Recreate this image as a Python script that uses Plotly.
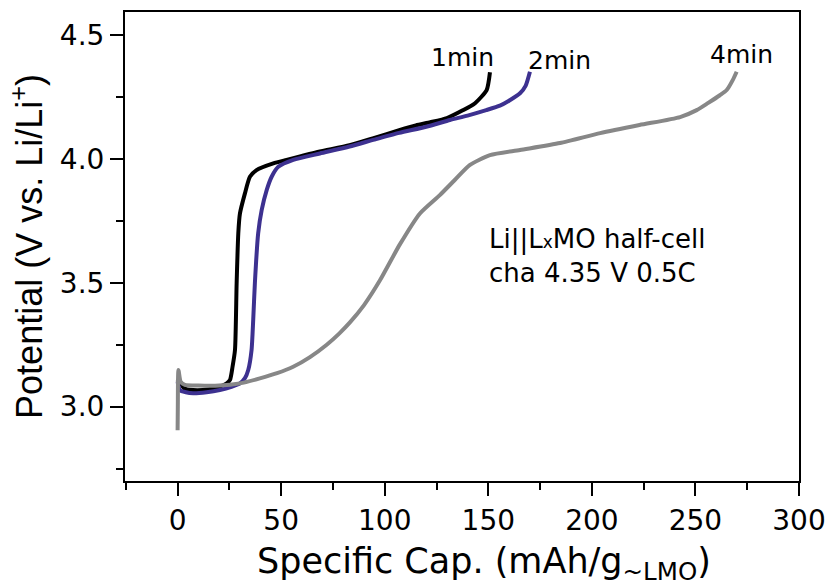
import plotly.graph_objects as go

# Charge curves of Li||LxMO half-cells (specific capacity in mAh/g, potential in V)
cap_1min = [0, 0.5, 3, 7.5, 15, 20.4, 23.7, 25.3, 26.5, 27.7, 28.5, 29.3, 30.1, 32.5, 34.9,
            38.1, 46.2, 52.6, 60, 68.7, 83, 95, 107, 115, 122, 130, 137.9, 143.6, 149.2, 150.8]
pot_1min = [3.10, 3.11, 3.075, 3.067, 3.07, 3.081, 3.094, 3.108, 3.16, 3.229, 3.498, 3.70, 3.78,
            3.861, 3.928, 3.955, 3.982, 3.996, 4.012, 4.03, 4.055, 4.085, 4.116, 4.135, 4.148,
            4.165, 4.197, 4.225, 4.278, 4.35]

cap_2min = [0, 1.1, 4, 7.5, 14, 20.4, 26, 30.1, 32.5, 34.1, 35.7, 36.5, 37.3, 38.9, 40.6, 43,
            45.4, 48.6, 55.8, 68.7, 83, 95, 107, 120, 131.5, 140, 149, 155.6, 160, 165.3, 168, 170.1]
pot_2min = [3.10, 3.067, 3.058, 3.054, 3.058, 3.067, 3.08, 3.094, 3.115, 3.148, 3.229, 3.35,
            3.498, 3.70, 3.794, 3.874, 3.928, 3.968, 3.996, 4.022, 4.05, 4.078, 4.105, 4.13,
            4.157, 4.175, 4.197, 4.215, 4.235, 4.265, 4.295, 4.352]

cap_4min = [0, 0.1, 0.4, 1.5, 3.5, 10, 20, 30.1, 39.7, 48, 55.8, 63.9, 72, 78, 83.2, 90, 97.7,
            107.3, 117, 126.6, 133.8, 141, 150.8, 165.3, 184.6, 204, 223, 242.6, 250.6, 256,
            261.8, 265.1, 268, 269.9]
pot_4min = [2.905, 3.0, 3.148, 3.10, 3.088, 3.085, 3.085, 3.094, 3.114, 3.135, 3.161, 3.20, 3.25,
            3.295, 3.34, 3.41, 3.51, 3.655, 3.78, 3.854, 3.915, 3.975, 4.015, 4.036, 4.064,
            4.104, 4.137, 4.169, 4.197, 4.225, 4.257, 4.278, 4.318, 4.352]

series_names = ["1min", "2min", "4min"]
series_colors = ["#000000", "#3d3190", "#878787"]
# label anchor points (capacity, potential) for each curve's name
label_pos = [(137.5, 4.41), (184.6, 4.397), (272.3, 4.423)]

WIDE = "DejaVu Sans, Verdana, sans-serif"
ARIAL = "Liberation Sans, Arial, sans-serif"

fig = go.Figure()
for xs, ys, name, col in zip([cap_1min, cap_2min, cap_4min],
                             [pot_1min, pot_2min, pot_4min],
                             series_names, series_colors):
    fig.add_trace(go.Scatter(x=xs, y=ys, mode="lines", name=name,
                             line=dict(color=col, width=4, shape="spline", smoothing=0.6)))

for name, (lx, ly) in zip(series_names, label_pos):
    fig.add_annotation(x=lx, y=ly, text=name, showarrow=False,
                       font=dict(family=WIDE, size=25, color="#000000"))

fig.add_annotation(x=0.537, y=0.48, xref="paper", yref="paper",
                   xanchor="left", yanchor="middle",
                   text="Li||L<span style='font-size:17px'>x</span>MO half-cell<br>cha 4.35 V 0.5C",
                   align="left", showarrow=False,
                   font=dict(family=WIDE, size=26, color="#000000"))

# x-axis title, placed as a paper annotation
fig.add_annotation(x=0.533, y=-0.176, xref="paper", yref="paper",
                   xanchor="center", yanchor="middle",
                   text="Specific Cap. (mAh/g<sub>~LMO</sub>)", showarrow=False,
                   font=dict(family=WIDE, size=35, color="#000000"))

axis_common = dict(showline=True, linecolor="#000000", linewidth=2, mirror=True,
                   ticks="outside", ticklen=13, tickwidth=2, tickcolor="#000000",
                   showgrid=False, zeroline=False,
                   tickfont=dict(family=WIDE, size=28, color="#000000"))

fig.update_xaxes(range=[-25.4, 300], tick0=0, dtick=50,
                 minor=dict(ticks="outside", ticklen=7, tickwidth=2, tickcolor="#000000",
                            dtick=25, tick0=0, showgrid=False),
                 **axis_common)
fig.update_yaxes(range=[2.70, 4.593], tick0=3.0, dtick=0.5, tickformat=".1f",
                 minor=dict(ticks="outside", ticklen=7, tickwidth=2, tickcolor="#000000",
                            dtick=0.25, tick0=3.0, showgrid=False),
                 title=dict(text="Potential (V vs. Li/Li<sup>+</sup>)",
                            font=dict(family=ARIAL, size=36, color="#000000"), standoff=6),
                 **axis_common)

fig.update_layout(width=830, height=587, showlegend=False,
                  plot_bgcolor="#ffffff", paper_bgcolor="#ffffff",
                  margin=dict(l=125, r=31, t=12, b=106, autoexpand=False))

fig.write_html("out.html")
